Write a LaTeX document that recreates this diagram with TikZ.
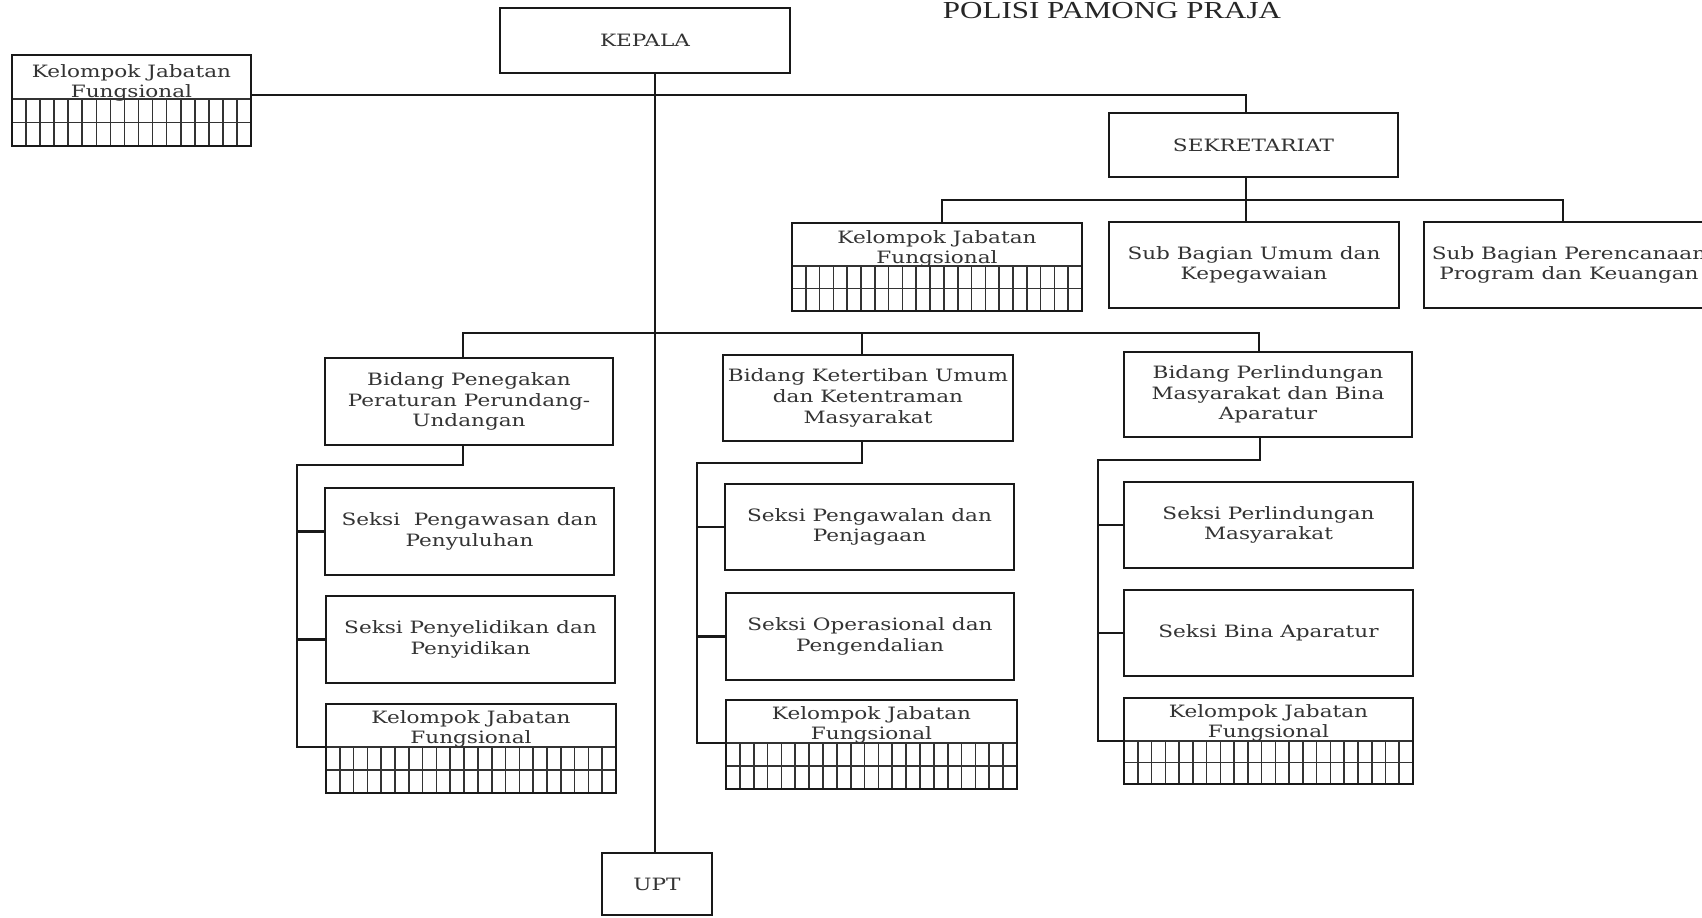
\documentclass[tikz,border=0pt]{standalone}
\usepackage{fontspec}
\setmainfont[FakeStretch=1.27]{DejaVu Serif}
\newfontfamily\titlefont[FakeStretch=1.27]{Liberation Serif}
\usetikzlibrary{calc,fit}
\newcommand{\boxfont}{\fontsize{8.5}{10.3}\selectfont}
\tikzset{
  unit/.style={draw=black!90, line width=1.2pt, inner sep=0pt, align=center, font=\boxfont, text=black!80},
  fitbox/.style={draw=black!90, line width=1.2pt, inner sep=0pt},
  txt/.style={inner sep=0pt, align=center, font=\boxfont, text=black!80},
  gridline/.style={draw=black!80, line width=0.8pt},
  conn/.style={draw=black!90, line width=1.1pt},
}
% name, left, top, right, bottom, divider, inner column lines, text offset
\newcommand{\kjfbox}[8]{%
  \path (#2,#3) coordinate (#1-nw) (#4,#5) coordinate (#1-se) (#2,#6) coordinate (#1-div);
  \node[fitbox, fit=(#1-nw)(#1-se)] (#1) {};
  \node[txt, anchor=north] (#1-t) at ({(#2+#4)/2},{#3+#8}) {Kelompok Jabatan\\Fungsional};
  \draw[gridline] (#2,#6) -- (#4,#6);
  \draw[gridline] (#2,{(#6+#5)/2}) -- (#4,{(#6+#5)/2});
  \foreach \i in {1,...,#7} {\draw[gridline] ({#2+(#4-#2)*\i/(#7+1)},#6) -- ({#2+(#4-#2)*\i/(#7+1)},#5);}
  \draw[fitbox] (#1-nw) rectangle (#1-se);
}
\begin{document}
\begin{tikzpicture}[x=0.5pt,y=-0.5pt]
\useasboundingbox (0,0) rectangle (1702,917);
\clip (0,0) rectangle (1702,917);
\fill[white] (0,0) rectangle (1702,917);

\node[inner sep=0pt, font=\titlefont\fontsize{12.2}{14}\selectfont, text=black!85, anchor=base] (title) at (1112,18.5) {POLISI PAMONG PRAJA};

\node[unit, minimum width=145pt, minimum height=32.5pt] (kepala) at (645,40.5) {KEPALA};
\node[unit, minimum width=144.5pt, minimum height=32pt] (sekr) at (1253.5,145) {SEKRETARIAT};
\node[unit, minimum width=145pt, minimum height=43pt] (sbu) at (1254,265) {Sub Bagian Umum dan\\Kepegawaian};
\node[unit, minimum width=145pt, minimum height=43pt] (sbp) at (1569,265) {Sub Bagian Perencanaan\\Program dan Keuangan};

\node[unit, minimum width=144pt, minimum height=43.5pt] (bid1) at (469,401.5) {Bidang Penegakan\\Peraturan Perundang-\\Undangan};
\node[unit, minimum width=145pt, minimum height=43pt] (bid2) at (868,398) {Bidang Ketertiban Umum\\dan Ketentraman\\Masyarakat};
\node[unit, minimum width=144pt, minimum height=42.5pt] (bid3) at (1268,394.5) {Bidang Perlindungan\\Masyarakat dan Bina\\Aparatur};

\node[unit, minimum width=144.5pt, minimum height=43.5pt] (s11) at (469.5,531.5) {Seksi\ \ Pengawasan dan\\Penyuluhan};
\node[unit, minimum width=144.5pt, minimum height=43.5pt] (s12) at (470.5,639.5) {Seksi Penyelidikan dan\\Penyidikan};
\node[unit, minimum width=144.5pt, minimum height=43pt] (s21) at (869.5,527) {Seksi Pengawalan dan\\Penjagaan};
\node[unit, minimum width=144pt, minimum height=43.5pt] (s22) at (870,636.5) {Seksi Operasional dan\\Pengendalian};
\node[unit, minimum width=144.5pt, minimum height=43pt] (s31) at (1268.5,525) {Seksi Perlindungan\\Masyarakat};
\node[unit, minimum width=144.5pt, minimum height=43pt] (s32) at (1268.5,633) {Seksi Bina Aparatur};

\node[unit, minimum width=55pt, minimum height=31pt] (upt) at (657,884) {UPT};

\kjfbox{kjf0}{12}{55}{251}{146}{99}{16}{9}
\kjfbox{kjf1}{792}{223}{1082}{311}{266}{20}{7}
\kjfbox{kjf11}{326}{704}{616}{793}{747}{20}{6}
\kjfbox{kjf21}{726}{700}{1017}{789}{743}{20}{6}
\kjfbox{kjf31}{1124}{698}{1413}{784}{741}{20}{6}

% spine
\coordinate (sp) at (655,0);
\draw[conn] (kepala.south -| sp) -- (upt.north -| sp);
% to sekretariat
\coordinate (h0) at (1246,95);
\draw[conn] (kjf0.east |- h0) -- (h0) -- (h0 |- sekr.north);
\coordinate (h1) at (1246,200);
\coordinate (h1l) at (942,200);
\coordinate (h1r) at (1563,200);
\draw[conn] (h1 |- sekr.south) -- (h1);
\draw[conn] (kjf1.north -| h1l) -- (h1l) -- (h1r) -- (sbp.north -| h1r);
\draw[conn] (h1) -- (sbu.north -| h1);
% bidang
\coordinate (h2l) at (463,333);
\coordinate (h2m) at (862,333);
\coordinate (h2r) at (1259,333);
\draw[conn] (bid1.north -| h2l) -- (h2l) -- (h2r) -- (bid3.north -| h2r);
\draw[conn] (h2m) -- (bid2.north -| h2m);
% column 1
\coordinate (c1a) at (463,465);
\coordinate (c1b) at (297,465);
\draw[conn] (bid1.south -| c1a) -- (c1a) -- (c1b) -- (c1b |- kjf11-div) -- (kjf11-div);
\draw[conn] (c1b |- s11.west) -- (s11.west);
\draw[conn] (c1b |- s12.west) -- (s12.west);
% column 2
\coordinate (c2a) at (862,463);
\coordinate (c2b) at (697,463);
\draw[conn] (bid2.south -| c2a) -- (c2a) -- (c2b) -- (c2b |- kjf21-div) -- (kjf21-div);
\draw[conn] (c2b |- s21.west) -- (s21.west);
\draw[conn] (c2b |- s22.west) -- (s22.west);
% column 3
\coordinate (c3a) at (1260,460);
\coordinate (c3b) at (1098,460);
\draw[conn] (bid3.south -| c3a) -- (c3a) -- (c3b) -- (c3b |- kjf31-div) -- (kjf31-div);
\draw[conn] (c3b |- s31.west) -- (s31.west);
\draw[conn] (c3b |- s32.west) -- (s32.west);
\end{tikzpicture}
\end{document}
